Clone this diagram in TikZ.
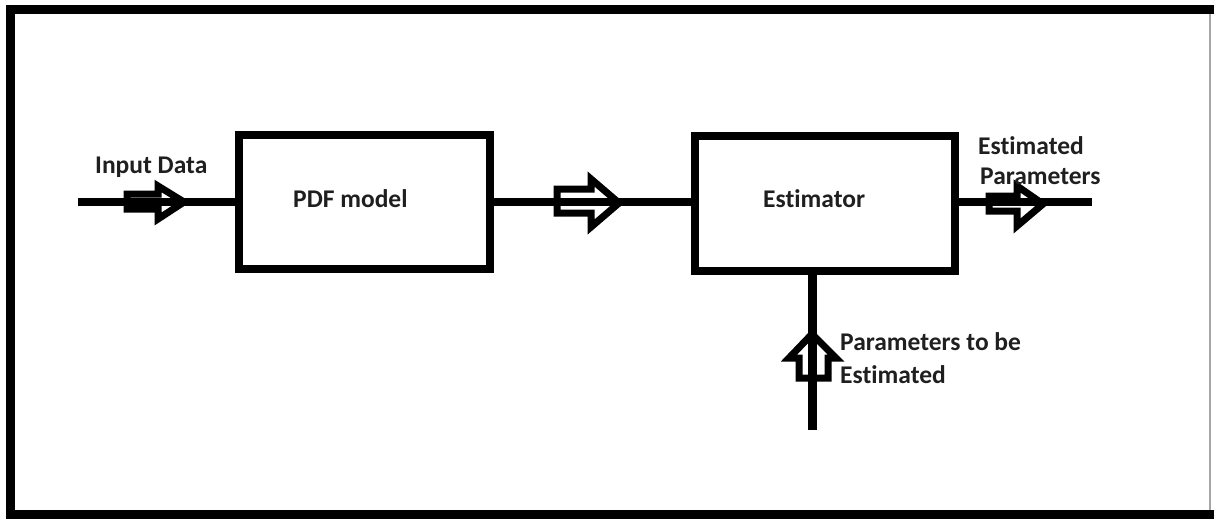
\documentclass[tikz,border=0pt]{standalone}
\usepackage{fontspec}
\setmainfont[Ligatures={NoCommon}]{Carlito}
\begin{document}
\begin{tikzpicture}[x=1pt,y=-1pt,
  blk/.style={draw=black,line width=8pt,minimum width=251pt,minimum height=134pt,inner sep=0pt},
  wire/.style={draw=black,line width=7.5pt},
  hollow/.style={draw=black,line width=7pt,line join=miter},
  lbl/.style={font=\fontsize{25.5}{30}\selectfont\bfseries,text=black!88,inner sep=0pt,align=left}]
\useasboundingbox (0,0) rectangle (1214,519);
% frame
\fill[black] (6,5) rectangle (1214,14);
\fill[black] (6,5) rectangle (15,519);
\fill[black] (6,510) rectangle (1214,519);
\draw[black!35,line width=1.2pt] (1210,14) -- (1210,510);
% boxes
\node[blk] (pdf) at (364.5,201.5) {};
\node[blk,minimum width=260pt,minimum height=135pt] (est) at (825,203.5) {};
% free ends
\coordinate (in) at (78,202);
\coordinate (out) at (1092,202);
\coordinate (pbot) at (812,430);
% connectors
\draw[wire] (in) -- (in -| pdf.west);
\draw[wire] (in -| pdf.east) -- (in -| est.west);
\draw[wire] (in -| est.east) -- (out);
\draw[wire,line width=9pt] (pbot |- est.south) -- (pbot);
% hollow arrows
\draw[hollow] (127,194) -- (158,194) -- (158,186) -- (184,202) -- (158,219) -- (158,209) -- (127,209) -- cycle;
\draw[hollow] (557,189) -- (591,189) -- (591,179) -- (619,203) -- (591,227) -- (591,213) -- (557,213) -- cycle;
\draw[hollow] (989,196) -- (1017,196) -- (1017,186) -- (1043,204) -- (1017,226) -- (1017,211) -- (989,211) -- cycle;
\draw[hollow] (799,378) -- (799,358) -- (789,358) -- (812,334) -- (836,358) -- (828,358) -- (828,378) -- cycle;
% labels
\node[lbl,anchor=base west] (tin) at (95,173) {Input Data};
\node[lbl,anchor=base west] (tpdf) at (293,207) {PDF model};
\node[lbl,anchor=base west] (test) at (763,207) {Estimator};
\node[lbl,anchor=base west] (tout1) at (978,154) {Estimated};
\node[lbl,anchor=base west] (tout2) at (980,184) {Parameters};
\node[lbl,anchor=base west] (tp1) at (840,350) {Parameters to be};
\node[lbl,anchor=base west] (tp2) at (840,383) {Estimated};
\end{tikzpicture}
\end{document}
